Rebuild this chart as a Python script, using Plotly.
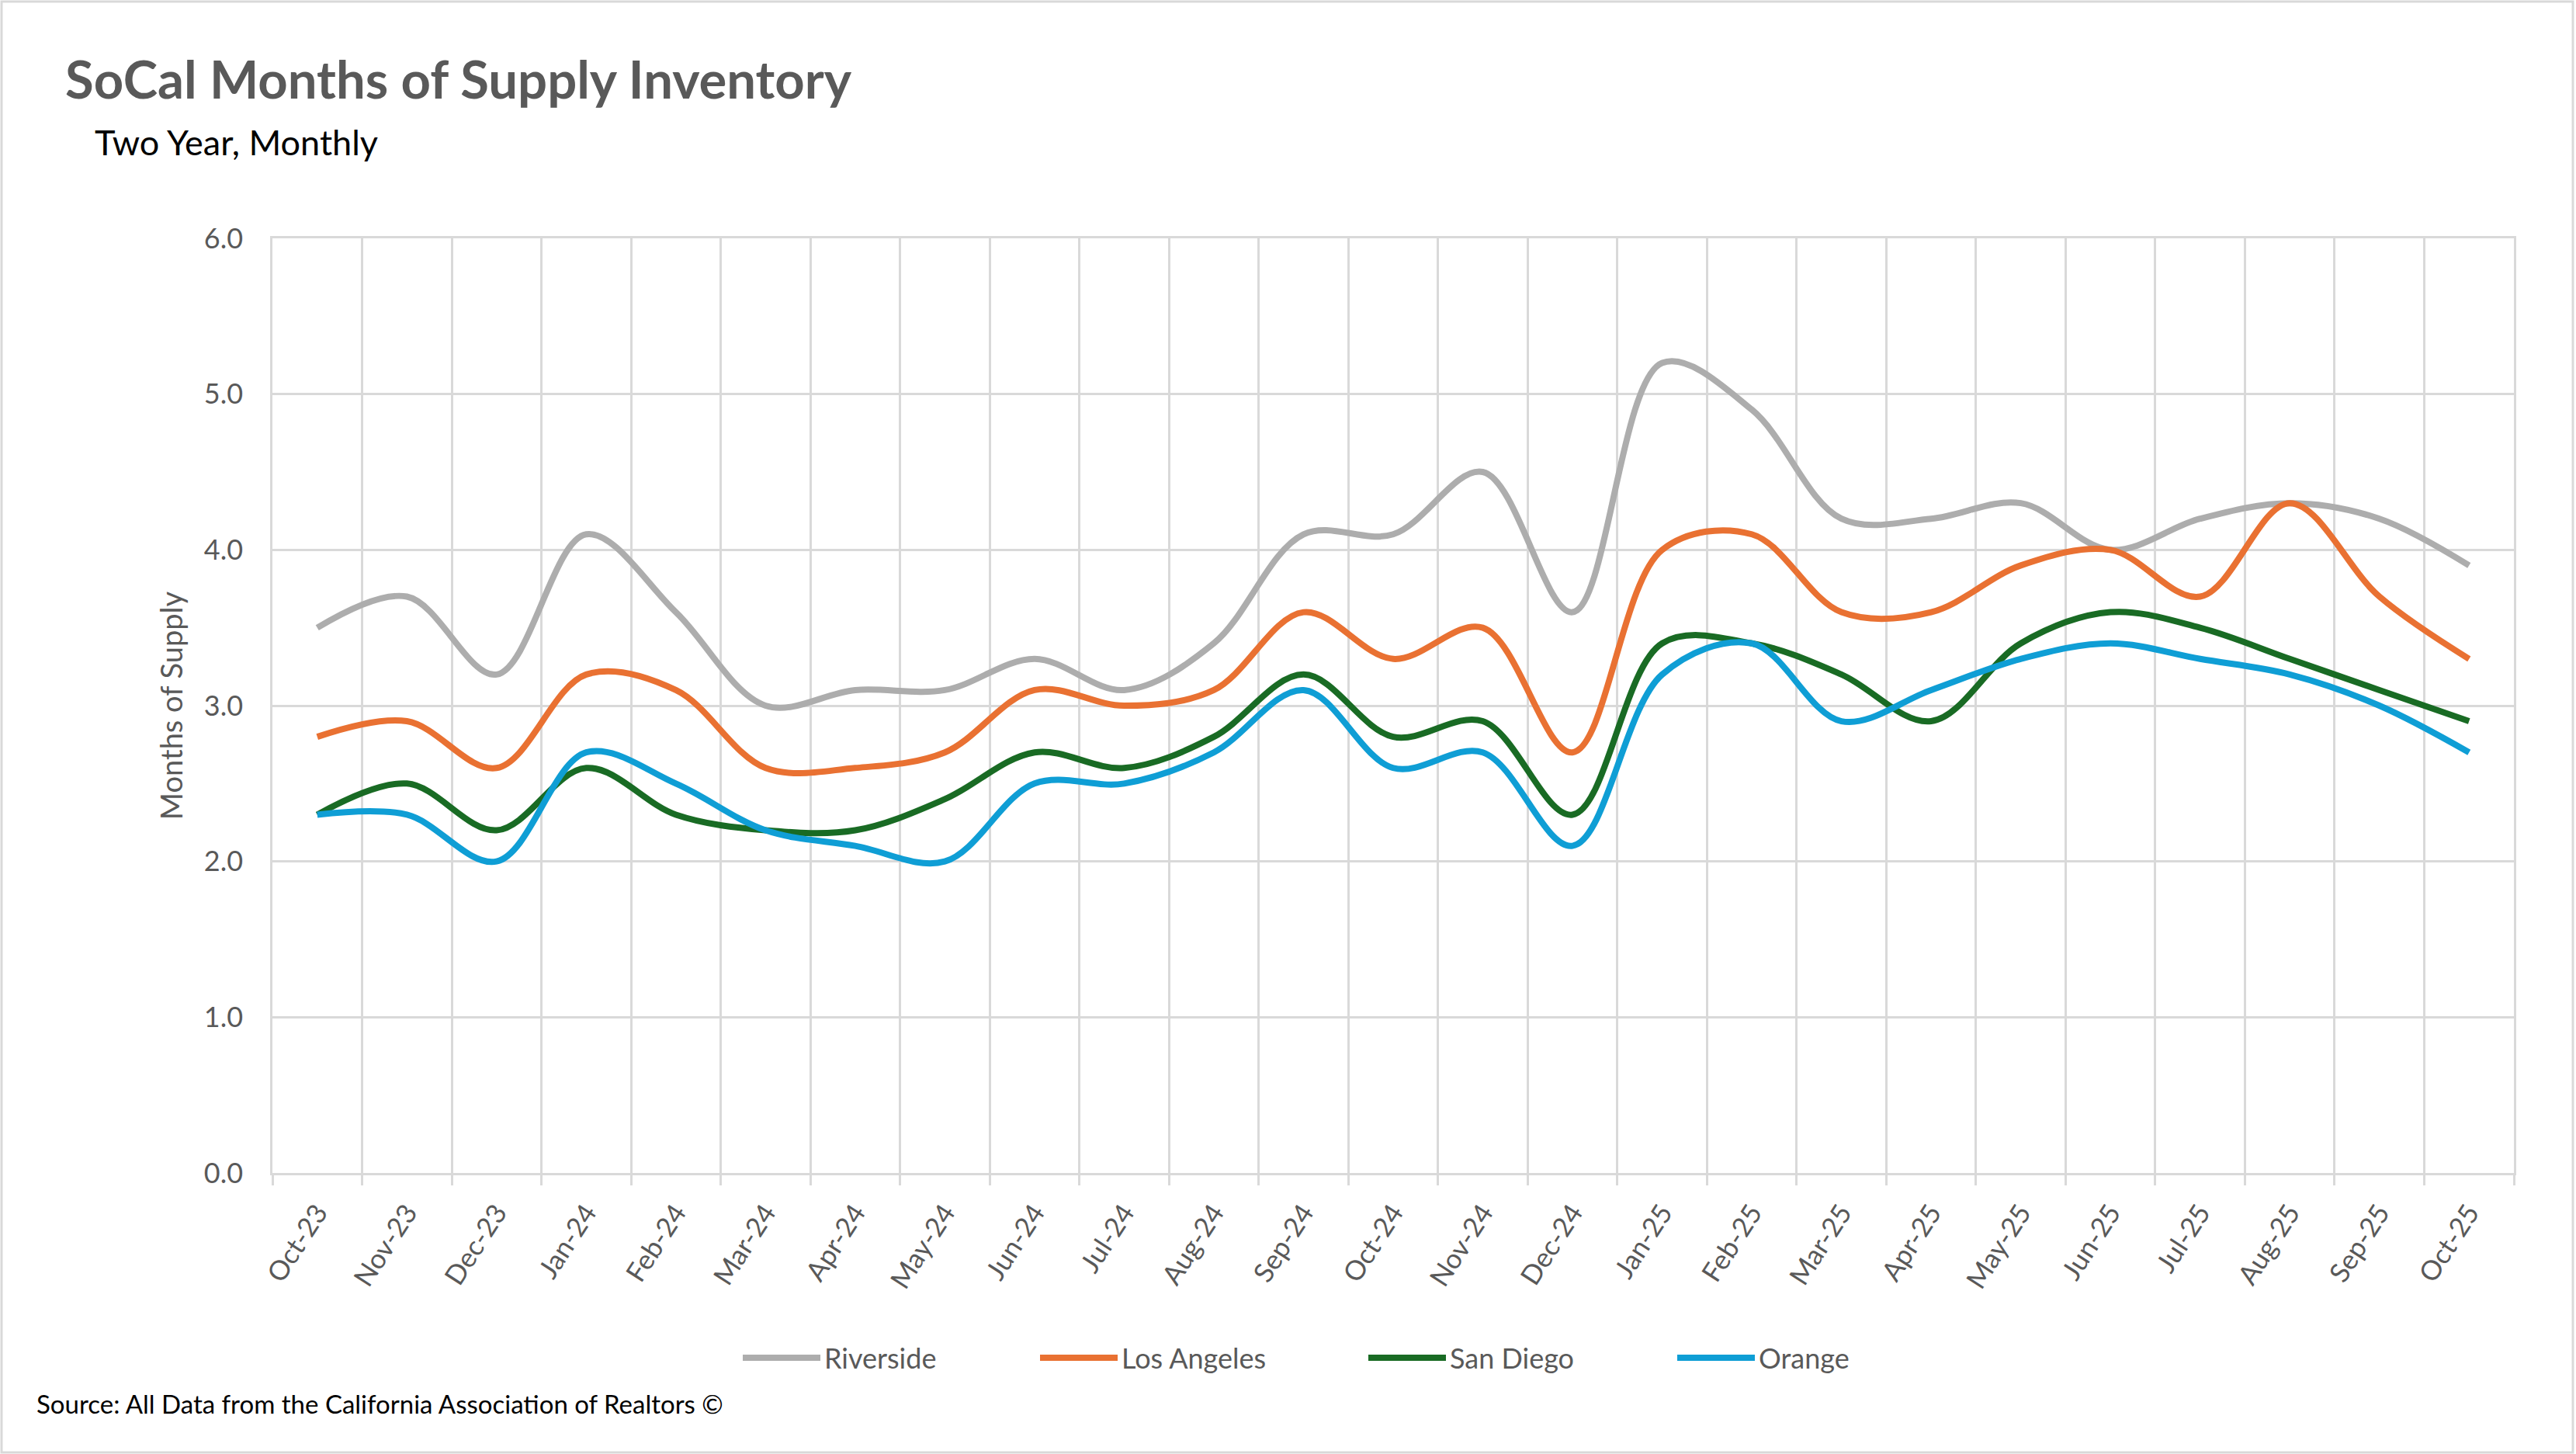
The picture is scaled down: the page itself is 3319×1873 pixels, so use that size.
import plotly.graph_objects as go

months = ["Oct-23", "Nov-23", "Dec-23", "Jan-24", "Feb-24", "Mar-24", "Apr-24", "May-24",
          "Jun-24", "Jul-24", "Aug-24", "Sep-24", "Oct-24", "Nov-24", "Dec-24", "Jan-25",
          "Feb-25", "Mar-25", "Apr-25", "May-25", "Jun-25", "Jul-25", "Aug-25", "Sep-25", "Oct-25"]

riverside = [3.5, 3.7, 3.2, 4.1, 3.6, 3.0, 3.1, 3.1, 3.3, 3.1, 3.4, 4.1, 4.1, 4.5, 3.6, 5.2,
             4.9, 4.2, 4.2, 4.3, 4.0, 4.2, 4.3, 4.2, 3.9]
los_angeles = [2.8, 2.9, 2.6, 3.2, 3.1, 2.6, 2.6, 2.7, 3.1, 3.0, 3.1, 3.6, 3.3, 3.5, 2.7, 4.0,
               4.1, 3.6, 3.6, 3.9, 4.0, 3.7, 4.3, 3.7, 3.3]
san_diego = [2.3, 2.5, 2.2, 2.6, 2.3, 2.2, 2.2, 2.4, 2.7, 2.6, 2.8, 3.2, 2.8, 2.9, 2.3, 3.4,
             3.4, 3.2, 2.9, 3.4, 3.6, 3.5, 3.3, 3.1, 2.9]
orange = [2.3, 2.3, 2.0, 2.7, 2.5, 2.2, 2.1, 2.0, 2.5, 2.5, 2.7, 3.1, 2.6, 2.7, 2.1, 3.2,
          3.4, 2.9, 3.1, 3.3, 3.4, 3.3, 3.2, 3.0, 2.7]

series_names = ["Riverside", "Los Angeles", "San Diego", "Orange"]
series_values = [riverside, los_angeles, san_diego, orange]
series_colors = ["#ADADAD", "#E97132", "#196B24", "#0F9ED5"]
legend_entry_widths = [268, 308, 283, 150]

y_ticks = [0, 1, 2, 3, 4, 5, 6]

FONT = "Lato, 'Liberation Sans', Arial, sans-serif"
GRID = "#D9D9D9"
TXT = "#595959"

W, H = 3319, 1873
ML, MR, MT, MB = 351, 80, 307, 362
PW, PH = W - ML - MR, H - MT - MB


def px_x(px):
    return (px - ML) / PW


def px_y(py):
    return (H - MB - py) / PH


fig = go.Figure()
for name, vals, col, lw in zip(series_names, series_values, series_colors, legend_entry_widths):
    fig.add_trace(go.Scatter(
        x=months, y=vals, name=name, mode="lines",
        line=dict(color=col, width=8, shape="spline", smoothing=1.0),
        legendwidth=lw,
    ))

fig.update_layout(
    width=W, height=H,
    margin=dict(l=ML, r=MR, t=MT, b=MB, autoexpand=False),
    paper_bgcolor="white", plot_bgcolor="white",
    font=dict(family=FONT, color=TXT, size=36),
    title=dict(
        text="<b>SoCal Months of Supply Inventory</b>",
        font=dict(family=FONT, size=67, color=TXT),
        xref="container", yref="container",
        x=84 / W, xanchor="left",
        y=1 - 104 / H, yanchor="middle",
    ),
    showlegend=True,
    legend=dict(
        orientation="h", xref="container", yref="container",
        x=952 / W, xanchor="left", y=1 - 1749 / H, yanchor="middle",
        font=dict(family=FONT, size=36, color=TXT),
        itemwidth=100, tracegroupgap=0,
    ),
    xaxis=dict(
        type="category", categoryorder="array", categoryarray=months,
        range=[-0.5, len(months) - 0.5],
        tickson="boundaries", showgrid=True, gridcolor=GRID, gridwidth=2.5,
        ticks="outside", ticklen=13, tickcolor=GRID, tickwidth=2.5,
        showline=True, linecolor=GRID, linewidth=2.5, mirror=True,
        tickangle=-57, tickfont=dict(family=FONT, size=35, color=TXT),
        ticklabelstandoff=14, zeroline=False,
    ),
    yaxis=dict(
        range=[0, 6], tickvals=y_ticks, tickformat=".1f",
        showgrid=True, gridcolor=GRID, gridwidth=2.5,
        showline=True, linecolor=GRID, linewidth=2.5, mirror=True,
        ticks="outside", ticklen=28, tickcolor="rgba(0,0,0,0)",
        tickfont=dict(family=FONT, size=36, color=TXT), zeroline=False,
        title=dict(text="Months of Supply", standoff=16,
                   font=dict(family=FONT, size=38, color=TXT)),
    ),
    annotations=[
        dict(text="Two Year, Monthly", xref="paper", yref="paper",
             x=px_x(120), y=px_y(183), xanchor="left", yanchor="middle",
             showarrow=False, font=dict(family=FONT, size=45, color="black")),
        dict(text="Source: All Data from the California Association of Realtors ©",
             xref="paper", yref="paper", x=px_x(45), y=px_y(1808),
             xanchor="left", yanchor="middle", showarrow=False,
             font=dict(family=FONT, size=33, color="black")),
    ],
    shapes=[
        dict(type="rect", xref="paper", yref="paper", layer="below",
             x0=px_x(2), x1=px_x(W - 4), y0=px_y(H - 2), y1=px_y(2),
             line=dict(color=GRID, width=3), fillcolor="rgba(0,0,0,0)"),
    ],
)

fig.write_html(
    "out.html",
    config={"displayModeBar": False},
    post_script="document.body.style.margin='0';document.body.style.overflow='hidden';",
)
